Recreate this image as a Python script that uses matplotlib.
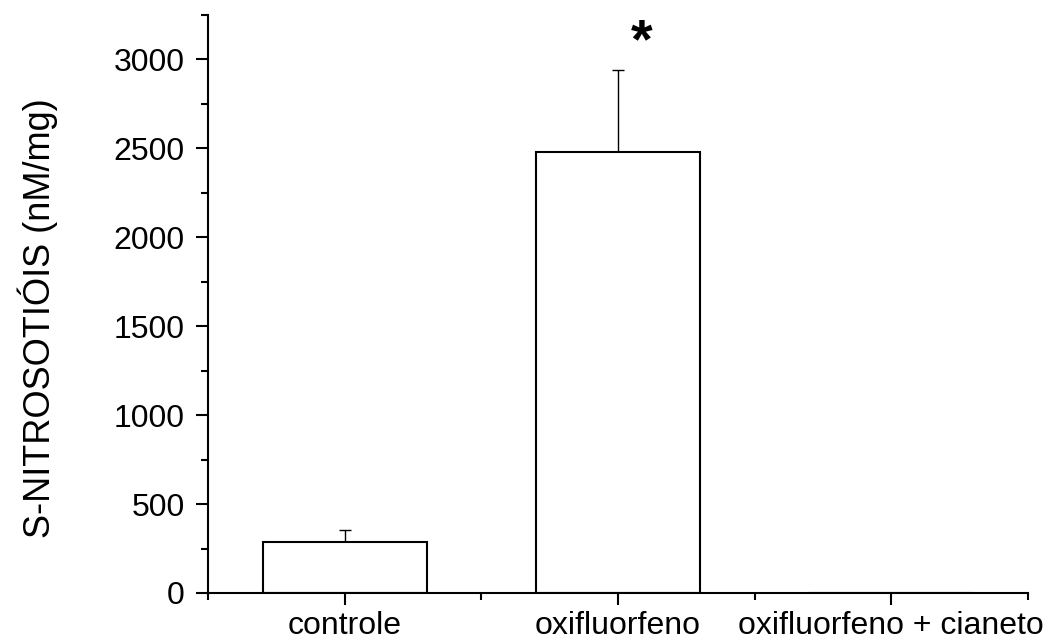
import matplotlib
matplotlib.use("Agg")
import matplotlib.pyplot as plt
from matplotlib.ticker import MultipleLocator, FixedLocator

categories = ["controle", "oxifluorfeno", "oxifluorfeno + cianeto"]
values = [285, 2478, 0]
errors = [70, 460, 0]
y_ticks = [0, 500, 1000, 1500, 2000, 2500, 3000]
ylabel = "S-NITROSOTIÓIS (nM/mg)"

plt.rcParams['font.family'] = ['Liberation Sans', 'DejaVu Sans']

fig = plt.figure(figsize=(10.53, 6.41), dpi=100)
ax = fig.add_axes([208/1053, 1-593/641, (1028-208)/1053, (593-15)/641])

x = list(range(len(categories)))
ax.bar(x, values, width=0.6, color='white', edgecolor='black', linewidth=1.5, zorder=2)
ax.errorbar(x[:2], values[:2], yerr=[[0, 0], errors[:2]], fmt='none', ecolor='black',
            elinewidth=1.0, capsize=4.5, capthick=1.0, zorder=1)

ax.text(1.087, 3010, '*', ha='center', va='baseline', fontsize=40, fontweight='bold')

ax.set_xlim(-0.5, 2.5)
ax.set_ylim(0, 3250)
ax.set_xticks(x)
ax.set_xticklabels(categories)
ax.xaxis.set_minor_locator(FixedLocator([-0.5, 0.5, 1.5, 2.5]))
ax.set_yticks(y_ticks)
ax.yaxis.set_minor_locator(MultipleLocator(250))

for s in ['top', 'right']:
    ax.spines[s].set_visible(False)
for s in ['left', 'bottom']:
    ax.spines[s].set_linewidth(1.5)

ax.tick_params(axis='both', which='major', length=8.6, width=1.5, labelsize=23, direction='out')
ax.tick_params(axis='both', which='minor', length=5, width=1.5, direction='out')
ax.tick_params(axis='x', which='major', pad=4)
ax.tick_params(axis='y', which='major', pad=8)
fig.text(38/1053, 1-318/641, ylabel, rotation=90, ha='center', va='center', fontsize=26)

fig.savefig("out.png", dpi=100)
